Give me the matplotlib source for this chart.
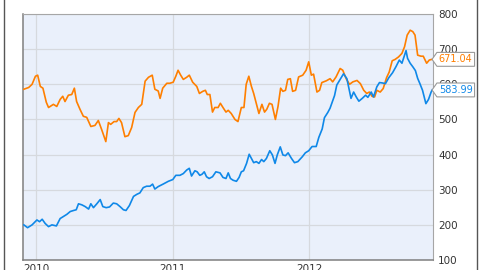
"""Two weekly price series, 2009-2012, with last-value tags on the right axis."""

import matplotlib

matplotlib.use("Agg")

import matplotlib.dates as mdates
import matplotlib.pyplot as plt
import pandas as pd
from matplotlib.lines import Line2D
from matplotlib.path import Path

# --- data ------------------------------------------------------------------
orange_dates = [
    "2009-11-29", "2009-12-12", "2009-12-21", "2009-12-30", "2010-01-05", "2010-01-12",
    "2010-01-19", "2010-01-28", "2010-02-03", "2010-02-16", "2010-02-25", "2010-03-06",
    "2010-03-13", "2010-03-19", "2010-03-28", "2010-04-06", "2010-04-13", "2010-04-19",
    "2010-04-28", "2010-05-07", "2010-05-16", "2010-05-27", "2010-06-07", "2010-06-16",
    "2010-06-25", "2010-07-06", "2010-07-13", "2010-07-19", "2010-07-28", "2010-08-04",
    "2010-08-10", "2010-08-17", "2010-08-26", "2010-09-04", "2010-09-13", "2010-09-22",
    "2010-10-01", "2010-10-10", "2010-10-19", "2010-10-28", "2010-11-07", "2010-11-14",
    "2010-11-23", "2010-11-28", "2010-12-05", "2010-12-16", "2010-12-24", "2011-01-02",
    "2011-01-09", "2011-01-15", "2011-01-22", "2011-01-29", "2011-02-07", "2011-02-14",
    "2011-02-23", "2011-03-06", "2011-03-13", "2011-03-22", "2011-03-29", "2011-04-03",
    "2011-04-10", "2011-04-17", "2011-04-23", "2011-05-02", "2011-05-08", "2011-05-15",
    "2011-05-23", "2011-05-29", "2011-06-06", "2011-06-16", "2011-06-24", "2011-07-03",
    "2011-07-10", "2011-07-16", "2011-07-23", "2011-07-30", "2011-08-05", "2011-08-12",
    "2011-08-19", "2011-08-27", "2011-09-03", "2011-09-09", "2011-09-16", "2011-09-23",
    "2011-10-02", "2011-10-09", "2011-10-16", "2011-10-22", "2011-10-29", "2011-11-04",
    "2011-11-11", "2011-11-17", "2011-11-25", "2011-12-03", "2011-12-14", "2011-12-23",
    "2011-12-30", "2012-01-06", "2012-01-12", "2012-01-21", "2012-01-28", "2012-02-03",
    "2012-02-15", "2012-02-25", "2012-03-03", "2012-03-12", "2012-03-23", "2012-03-30",
    "2012-04-08", "2012-04-17", "2012-04-26", "2012-05-07", "2012-05-16", "2012-05-25",
    "2012-06-02", "2012-06-09", "2012-06-16", "2012-06-23", "2012-06-29", "2012-07-08",
    "2012-07-16", "2012-07-25", "2012-08-01", "2012-08-09", "2012-08-17", "2012-08-26",
    "2012-09-04", "2012-09-11", "2012-09-18", "2012-09-26", "2012-10-03", "2012-10-09",
    "2012-10-16", "2012-10-25", "2012-10-31", "2012-11-09", "2012-11-16", "2012-11-23",
]
orange_values = [
    586, 591, 600, 623, 626, 594,
    589, 549, 534, 543, 537, 557,
    566, 551, 569, 571, 589, 551,
    529, 509, 506, 480, 483, 497,
    471, 437, 491, 486, 494, 494,
    503, 491, 451, 454, 477, 520,
    534, 543, 609, 620, 626, 586,
    581, 560, 589, 603, 603, 606,
    623, 640, 626, 614, 620, 626,
    606, 594, 574, 580, 583, 571,
    571, 521, 534, 534, 546, 534,
    521, 526, 517, 500, 494, 534,
    534, 600, 623, 594, 574, 546,
    517, 543, 521, 529, 546, 543,
    500, 537, 589, 580, 583, 614,
    616, 580, 583, 621, 626, 640,
    664, 626, 629, 578, 583, 605,
    610, 616, 607, 621, 645, 640,
    616, 600, 607, 611, 602, 583,
    574, 578, 566, 564, 583, 578,
    588, 619, 635, 667, 671, 678,
    688, 707, 740, 754, 750, 740,
    683, 680, 680, 660, 669, 671.04,
]

blue_dates = [
    "2009-11-29", "2009-12-09", "2009-12-21", "2010-01-03", "2010-01-10", "2010-01-17",
    "2010-01-25", "2010-02-03", "2010-02-12", "2010-02-24", "2010-03-06", "2010-03-15",
    "2010-03-24", "2010-04-02", "2010-04-11", "2010-04-18", "2010-04-24", "2010-05-03",
    "2010-05-12", "2010-05-21", "2010-05-27", "2010-06-03", "2010-06-12", "2010-06-21",
    "2010-06-28", "2010-07-07", "2010-07-16", "2010-07-26", "2010-08-04", "2010-08-13",
    "2010-08-22", "2010-08-29", "2010-09-07", "2010-09-18", "2010-09-27", "2010-10-05",
    "2010-10-14", "2010-10-23", "2010-11-01", "2010-11-08", "2010-11-14", "2010-11-23",
    "2010-12-06", "2010-12-20", "2011-01-01", "2011-01-09", "2011-01-20", "2011-01-29",
    "2011-02-07", "2011-02-14", "2011-02-20", "2011-03-01", "2011-03-07", "2011-03-14",
    "2011-03-20", "2011-03-26", "2011-04-01", "2011-04-08", "2011-04-17", "2011-04-26",
    "2011-05-07", "2011-05-15", "2011-05-23", "2011-05-29", "2011-06-04", "2011-06-11",
    "2011-06-20", "2011-06-27", "2011-07-03", "2011-07-09", "2011-07-17", "2011-07-24",
    "2011-07-30", "2011-08-05", "2011-08-12", "2011-08-19", "2011-08-26", "2011-09-01",
    "2011-09-08", "2011-09-17", "2011-09-24", "2011-10-01", "2011-10-07", "2011-10-15",
    "2011-10-22", "2011-10-29", "2011-11-05", "2011-11-14", "2011-11-22", "2011-12-01",
    "2011-12-13", "2011-12-21", "2011-12-30", "2012-01-08", "2012-01-19", "2012-01-26",
    "2012-02-04", "2012-02-10", "2012-02-19", "2012-02-25", "2012-03-08", "2012-03-14",
    "2012-03-23", "2012-04-01", "2012-04-10", "2012-04-21", "2012-04-28", "2012-05-05",
    "2012-05-12", "2012-05-21", "2012-05-30", "2012-06-05", "2012-06-14", "2012-06-20",
    "2012-06-29", "2012-07-06", "2012-07-13", "2012-07-22", "2012-07-31", "2012-08-10",
    "2012-08-19", "2012-08-28", "2012-09-04", "2012-09-10", "2012-09-15", "2012-09-19",
    "2012-09-26", "2012-10-03", "2012-10-10", "2012-10-16", "2012-10-22", "2012-10-29",
    "2012-11-07", "2012-11-14", "2012-11-21", "2012-11-24",
]
blue_values = [
    200, 192, 200, 214, 209, 216,
    204, 195, 200, 197, 218, 224,
    230, 238, 241, 243, 260, 257,
    252, 245, 260, 249, 260, 272,
    252, 249, 251, 262, 260, 252,
    243, 241, 255, 281, 287, 291,
    306, 310, 310, 316, 302, 309,
    316, 324, 329, 341, 341, 346,
    356, 361, 339, 354, 351, 341,
    344, 351, 337, 332, 337, 351,
    348, 335, 332, 348, 332, 327,
    324, 335, 351, 354, 375, 401,
    389, 377, 380, 375, 386, 380,
    389, 411, 399, 375, 399, 422,
    399, 397, 405, 389, 377, 380,
    394, 405, 411, 423, 423, 449,
    473, 505, 520, 532, 568, 598,
    614, 630, 616, 560, 578, 564,
    552, 560, 569, 563, 578, 564,
    593, 605, 604, 602, 619, 633,
    650, 669, 660, 680, 696, 674,
    660, 650, 639, 617, 602, 583,
    545, 557, 578, 583.99,
]

y_ticks = [100, 200, 300, 400, 500, 600, 700, 800]
x_start, x_end = "2009-11-26", "2012-11-25"

ORANGE = "#ff7f00"
BLUE = "#0f88e8"
PLOT_BG = "#eaf0fb"
GRID = "#d6d9de"
TEXT = "#333333"
FONT_SIZE = 7


def tag_box(x0, y0, width, height, mutation_size):
    """Box with a short point on its left side (price tag)."""
    pad = 0.2 * mutation_size
    x0, y0 = x0 - pad, y0 - pad
    x1, y1 = x0 + width + 2 * pad, y0 + height + 2 * pad
    tip = 0.35 * (y1 - y0)
    ym = 0.5 * (y0 + y1)
    verts = [(x0, y0), (x1, y0), (x1, y1), (x0, y1), (x0 - tip, ym), (x0, y0)]
    codes = [Path.MOVETO] + [Path.LINETO] * 4 + [Path.CLOSEPOLY]
    return Path(verts, codes)


def tag_last(ax, value, color):
    """Put the value tag just right of the plot, centred on value."""
    ax.annotate(
        f"{value:.2f}",
        xy=(1.0, value),
        xycoords=("axes fraction", "data"),
        xytext=(4.5, 0),
        textcoords="offset points",
        va="center",
        ha="left",
        fontsize=FONT_SIZE,
        color=color,
        bbox=dict(boxstyle=tag_box, fc="white", ec="#9a9a9a", lw=0.8),
        zorder=5,
        annotation_clip=False,
    )


def main():
    fig = plt.figure(figsize=(4.8, 2.7), dpi=100)
    ax = fig.add_axes([0.0473, 0.037, 0.854, 0.911])
    ax.set_facecolor(PLOT_BG)

    o_dates = pd.to_datetime(orange_dates)
    b_dates = pd.to_datetime(blue_dates)
    ax.plot(o_dates, orange_values, color=ORANGE, lw=1.2, zorder=3)
    ax.plot(b_dates, blue_values, color=BLUE, lw=1.2, zorder=3)

    ax.set_xlim(pd.Timestamp(x_start), pd.Timestamp(x_end))
    ax.set_ylim(y_ticks[0], y_ticks[-1])
    ax.set_yticks(y_ticks)
    ax.yaxis.tick_right()
    ax.xaxis.set_major_locator(mdates.YearLocator())
    ax.xaxis.set_major_formatter(mdates.DateFormatter("%Y"))
    ax.tick_params(axis="both", length=0, labelsize=FONT_SIZE + 0.5, labelcolor=TEXT)
    ax.tick_params(axis="y", pad=4)
    ax.tick_params(axis="x", pad=3)

    ax.grid(True, color=GRID, lw=0.9, zorder=0)
    ax.set_axisbelow(True)
    for side in ("top", "right"):
        ax.spines[side].set_color("#a6a6a6")
    for side in ("left", "bottom"):
        ax.spines[side].set_color("#7f7f7f")
        ax.spines[side].set_linewidth(1.1)

    tag_last(ax, orange_values[-1], ORANGE)
    tag_last(ax, blue_values[-1], BLUE)

    # outer frame edges of the surrounding panel
    for x in (3.5 / 480, 477.0 / 480):
        fig.add_artist(Line2D([x, x], [0, 1], color="#555555", lw=1.0))

    fig.savefig("out.png", dpi=100)


if __name__ == "__main__":
    main()
